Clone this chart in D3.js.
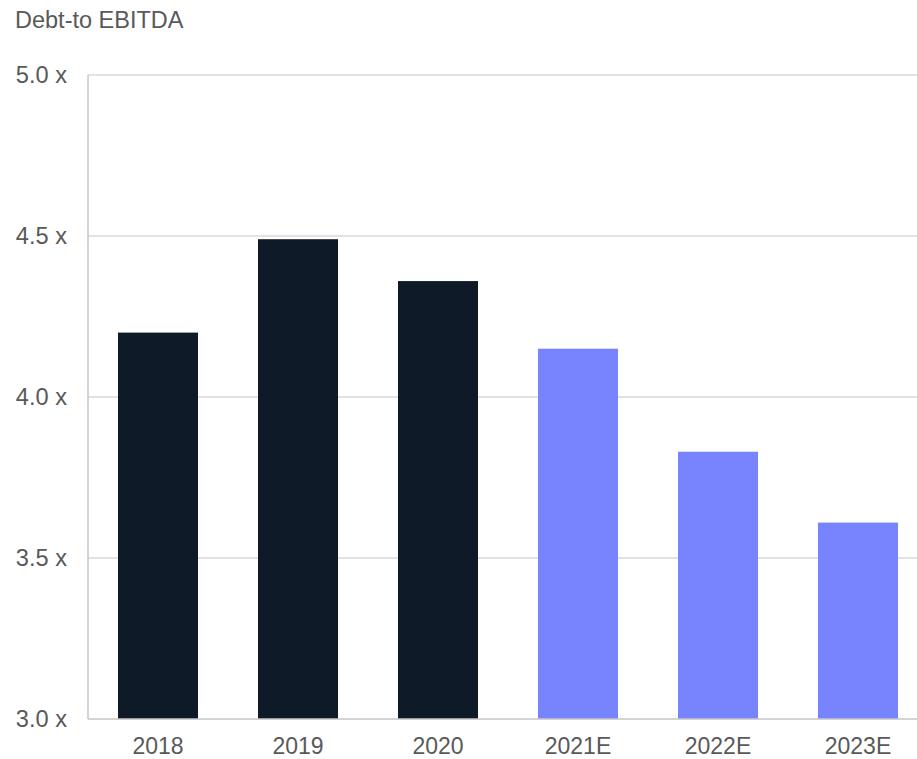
<!DOCTYPE html>
<html>
<head>
<meta charset="utf-8">
<script src="https://cdn.jsdelivr.net/npm/d3@7/dist/d3.min.js"></script>
<style>
  html, body { margin: 0; padding: 0; background: #ffffff; }
  svg { display: block; font-family: "Liberation Sans", Arial, sans-serif; }
</style>
</head>
<body>
<svg id="chart" width="917" height="759"></svg>
<script>
// Debt-to-EBITDA by year, actuals and estimates
const years = ["2018", "2019", "2020", "2021E", "2022E", "2023E"];
const leverage = [4.20, 4.49, 4.36, 4.15, 3.83, 3.61];
const isEstimate = [false, false, false, true, true, true];
const yTicks = [3.0, 3.5, 4.0, 4.5, 5.0];

const W = 917, H = 759;
const margin = { top: 75, left: 88, bottom: 40 };
const plotBottom = H - margin.bottom;

const svg = d3.select("#chart");

const y = d3.scaleLinear()
  .domain([3.0, 5.0])
  .range([plotBottom, margin.top]);

const x = d3.scaleBand()
  .domain(years)
  .range([margin.left, margin.left + 840])
  .paddingInner(3 / 7)
  .paddingOuter(3 / 14);

const textColor = "#595959";

// Horizontal gridlines
svg.append("g")
  .selectAll("line")
  .data(yTicks.filter(t => t > 3.0))
  .join("line")
  .attr("x1", margin.left)
  .attr("x2", W)
  .attr("y1", d => y(d))
  .attr("y2", d => y(d))
  .attr("stroke", "#d9d9d9")
  .attr("stroke-width", 1.5);

// Bars
svg.append("g")
  .selectAll("rect")
  .data(years.map((yr, i) => ({ yr, v: leverage[i], est: isEstimate[i] })))
  .join("rect")
  .attr("x", d => x(d.yr))
  .attr("width", x.bandwidth())
  .attr("y", d => y(d.v))
  .attr("height", d => plotBottom - y(d.v))
  .attr("fill", d => d.est ? "#7784fd" : "#0e1a28");

// Left axis line
svg.append("line")
  .attr("x1", margin.left).attr("x2", margin.left)
  .attr("y1", margin.top).attr("y2", plotBottom)
  .attr("stroke", "#c6c6c6")
  .attr("stroke-width", 1.5);

// Baseline
svg.append("line")
  .attr("x1", margin.left).attr("x2", W)
  .attr("y1", plotBottom).attr("y2", plotBottom)
  .attr("stroke", "#c6c6c6")
  .attr("stroke-width", 1.5);

// Y tick labels
const yAxis = d3.axisLeft(y)
  .tickValues(yTicks)
  .tickSize(0)
  .tickPadding(21)
  .tickFormat(d => d3.format(".1f")(d) + " x");

svg.append("g")
  .attr("transform", `translate(${margin.left},0)`)
  .call(yAxis)
  .call(g => g.select(".domain").remove())
  .call(g => g.selectAll("text")
    .attr("fill", textColor)
    .style("font-size", "23.6px")
    .style("font-family", "'Liberation Sans', Arial, sans-serif"));

// X tick labels
const xAxis = d3.axisBottom(x).tickSize(0).tickPadding(19);
svg.append("g")
  .attr("transform", `translate(0,${plotBottom})`)
  .call(xAxis)
  .call(g => g.select(".domain").remove())
  .call(g => g.selectAll("text")
    .attr("fill", textColor)
    .style("font-size", "23px")
    .style("font-family", "'Liberation Sans', Arial, sans-serif"));

// Title
svg.append("text")
  .attr("x", 15)
  .attr("y", 27.5)
  .attr("fill", textColor)
  .style("font-size", "23.5px")
  .text("Debt-to EBITDA");
</script>
</body>
</html>
